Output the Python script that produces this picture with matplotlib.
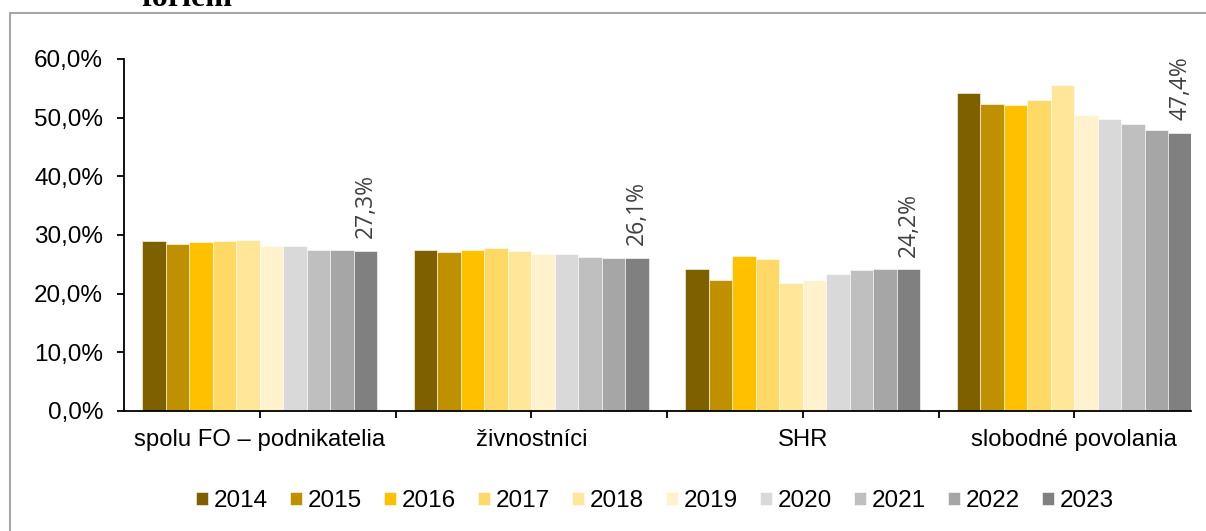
import numpy as np
import matplotlib.pyplot as plt
from matplotlib.patches import Rectangle
from matplotlib.ticker import FuncFormatter

categories = ["spolu FO – podnikatelia", "živnostníci", "SHR", "slobodné povolania"]
years = ["2014", "2015", "2016", "2017", "2018", "2019", "2020", "2021", "2022", "2023"]

# share in % per category, one list per year
v2014 = [29.0, 27.4, 24.2, 54.2]
v2015 = [28.4, 27.1, 22.4, 52.3]
v2016 = [28.8, 27.5, 26.4, 52.2]
v2017 = [29.0, 27.7, 25.9, 53.0]
v2018 = [29.1, 27.3, 21.9, 55.6]
v2019 = [28.2, 26.8, 22.3, 50.5]
v2020 = [28.2, 26.7, 23.4, 49.8]
v2021 = [27.5, 26.2, 24.1, 48.9]
v2022 = [27.4, 26.1, 24.2, 47.9]
v2023 = [27.3, 26.1, 24.2, 47.4]
values = [v2014, v2015, v2016, v2017, v2018, v2019, v2020, v2021, v2022, v2023]

colors = ["#7F6000", "#BF9000", "#FFC000", "#FFD966", "#FFE699",
          "#FFF2CC", "#D9D9D9", "#BFBFBF", "#A6A6A6", "#808080"]

W, H = 1206, 531
fig = plt.figure(figsize=(W / 100, H / 100), dpi=100)
fig.patch.set_facecolor("white")

# outer chart frame (cropped at right/bottom) and cut-off title
fig.patches.append(Rectangle((9.5 / W, -0.1), 1.2, 1 - 12.5 / H + 0.1,
                             transform=fig.transFigure, fill=False,
                             edgecolor="#A6A6A6", linewidth=1.5))
fig.text(142 / W, 1 - 6.5 / H, "foriem", ha="left", va="baseline",
         family="Liberation Serif", weight="bold", fontsize=23)

ax = fig.add_axes([124 / W, 120 / H, 1067 / W, 352 / H])

x = np.arange(len(categories))
bw = 0.0866
for j, (yr, vals) in enumerate(zip(years, values)):
    ax.bar(x + (j - 4.5) * bw, vals, bw, color=colors[j], label=yr,
           edgecolor="white", linewidth=0.4)

# labels on the last year
for i, v in enumerate(v2023):
    ax.annotate(f"{v:.1f}%".replace(".", ","), (x[i] + 4.5 * bw, v),
                xytext=(0, 9), textcoords="offset points",
                rotation=90, ha="center", va="bottom",
                family="Open Sans", fontsize=16.5, color="#404040")

ax.set_xlim(-0.5, 3.43)
ax.set_ylim(0, 60)
ax.set_yticks(np.arange(0, 61, 10))
ax.yaxis.set_major_formatter(FuncFormatter(lambda v, p: f"{v:.1f}%".replace(".", ",")))
ax.set_xticks(x)
ax.set_xticklabels(categories)
ax.set_xticks([0.5, 1.5, 2.5], minor=True)

for s in ["top", "right"]:
    ax.spines[s].set_visible(False)
for s in ["left", "bottom"]:
    ax.spines[s].set_linewidth(1.3)
    ax.spines[s].set_color("black")

ax.tick_params(axis="y", direction="out", length=5, width=1.3, pad=10,
               labelsize=17.5, labelfontfamily="Liberation Sans")
ax.tick_params(axis="x", which="both", direction="out", length=5, width=1.3)
ax.tick_params(axis="x", which="major", pad=8, labelsize=17.2,
               labelfontfamily="Liberation Sans")

fig.legend(loc="center", bbox_to_anchor=(655 / W, 1 - 501 / H), ncol=10,
           frameon=False, prop={"family": "Liberation Sans", "size": 17.5},
           handlelength=0.49, handleheight=0.49, handletextpad=0.25,
           columnspacing=0.9, borderpad=0)

fig.savefig("out.png", dpi=100)
